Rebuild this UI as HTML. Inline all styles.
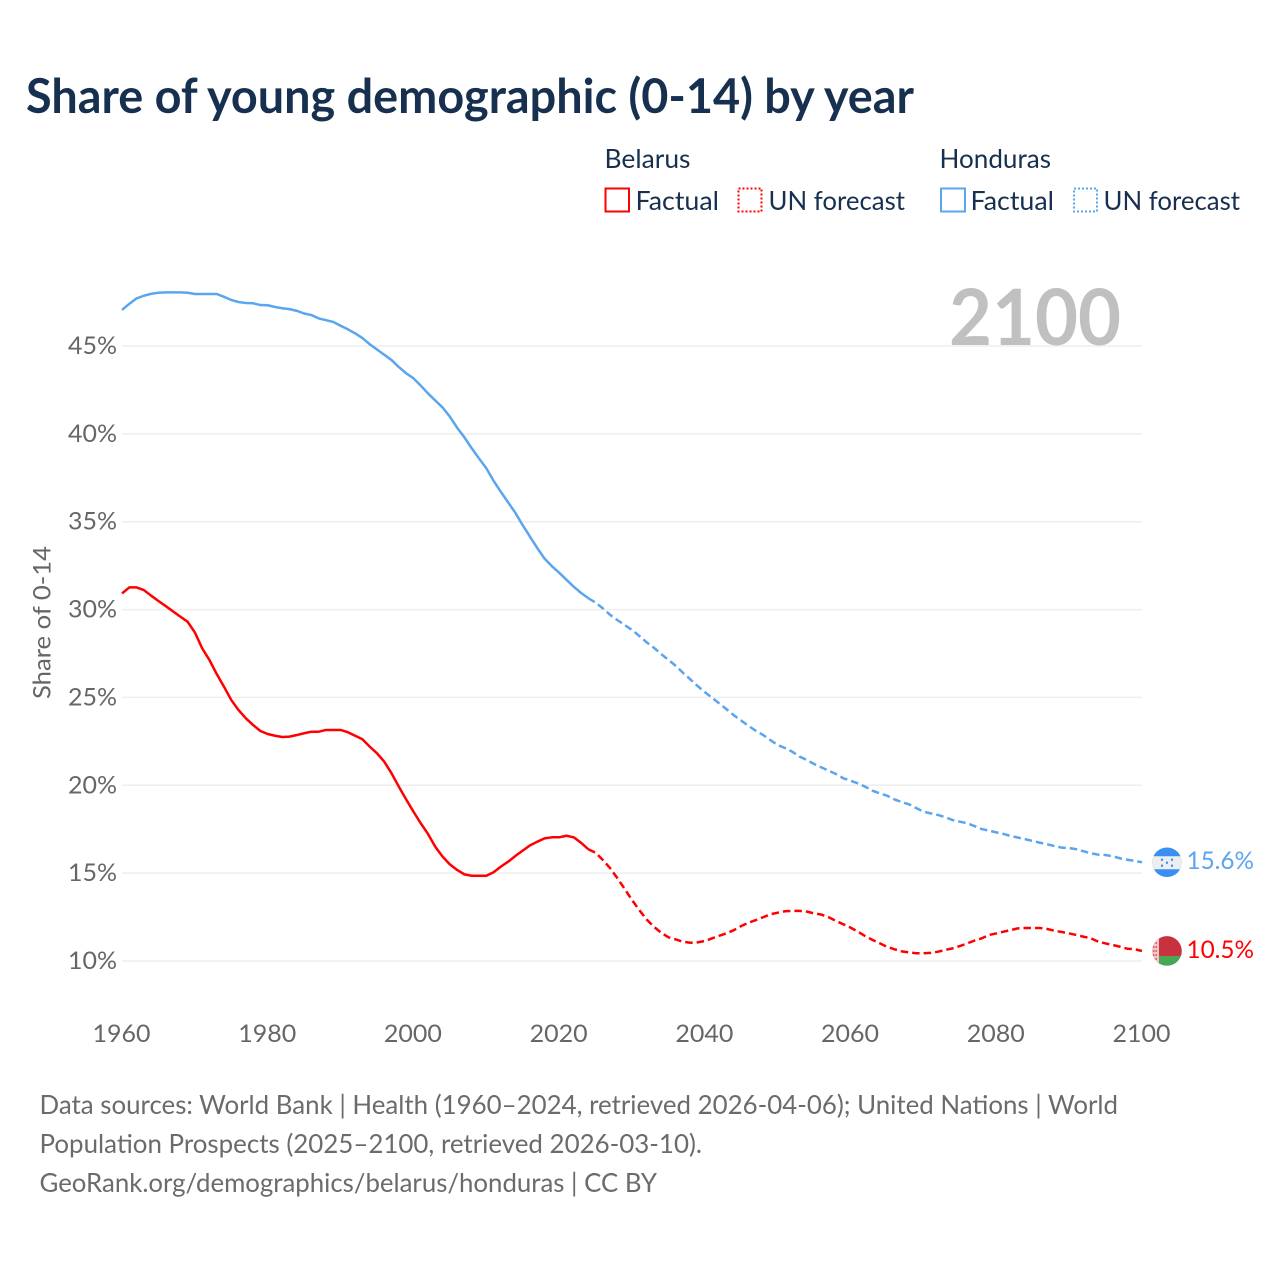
<!DOCTYPE html>
<html lang="en">
<head>
<meta charset="utf-8">
<title>Share of young demographic (0-14) by year</title>
<style>
html,body{margin:0;padding:0;background:#fff;width:1280px;height:1280px;overflow:hidden}
svg{display:block}
text{font-family:"Lato","Carlito","Liberation Sans",sans-serif}
</style>
</head>
<body>
<svg id="chart" width="1280" height="1280" viewBox="0 0 1280 1280" xmlns="http://www.w3.org/2000/svg">
  <defs>
    <clipPath id="flag-clip"><circle cx="0" cy="0" r="14.8"/></clipPath>
  </defs>
  <rect x="0" y="0" width="1280" height="1280" fill="#fff"/>
  <text x="26" y="113" font-size="48" font-weight="700" fill="#17304f" textLength="888" lengthAdjust="spacingAndGlyphs">Share of young demographic (0-14) by year</text>

  <g font-size="26" fill="#17304f">
    <text x="604.500" y="168" textLength="86" lengthAdjust="spacingAndGlyphs">Belarus</text>
    <rect x="605.500" y="188.500" width="23.500" height="23" fill="none" stroke="#ff0000" stroke-width="2"/>
    <text x="635.500" y="210" textLength="83.500" lengthAdjust="spacingAndGlyphs">Factual</text>
    <rect x="738.500" y="188.500" width="23" height="23" fill="none" stroke="#ff0000" stroke-width="2" stroke-dasharray="2 2"/>
    <text x="768.500" y="210" textLength="136.500" lengthAdjust="spacingAndGlyphs">UN forecast</text>
    <text x="939.500" y="168" textLength="111.500" lengthAdjust="spacingAndGlyphs">Honduras</text>
    <rect x="941" y="188.500" width="24" height="23" fill="none" stroke="#5aa5ee" stroke-width="2"/>
    <text x="970.500" y="210" textLength="83.500" lengthAdjust="spacingAndGlyphs">Factual</text>
    <rect x="1074" y="188.500" width="23" height="23" fill="none" stroke="#5aa5ee" stroke-width="2" stroke-dasharray="2 2"/>
    <text x="1103.500" y="210" textLength="136.500" lengthAdjust="spacingAndGlyphs">UN forecast</text>
  </g>

  <g id="grid"></g>
  <text x="949" y="345" font-size="78" font-weight="700" fill="#c0c0c0" textLength="172" lengthAdjust="spacingAndGlyphs">2100</text>
  <g id="yticks" font-size="24" fill="#666" text-anchor="end"></g>
  <g id="xticks" font-size="24" fill="#666" text-anchor="middle"></g>
  <text transform="translate(50.500,699) rotate(-90)" font-size="24" fill="#666" textLength="153" lengthAdjust="spacingAndGlyphs">Share of 0-14</text>

  <g id="series" fill="none" stroke-width="2.5" stroke-linejoin="round"></g>

  <g id="flag-honduras" clip-path="url(#flag-clip)">
    <rect x="-15" y="-15" width="30" height="30" fill="#3a8ff0"/>
    <rect x="-15" y="-6" width="30" height="13" fill="#eeeeee"/>
    <circle cx="-5" cy="-2.500" r="1.200" fill="#3a8ff0"/>
    <circle cx="5" cy="-2.500" r="1.200" fill="#3a8ff0"/>
    <circle cx="0" cy="0.500" r="1.200" fill="#3a8ff0"/>
    <circle cx="-5" cy="3.500" r="1.200" fill="#3a8ff0"/>
    <circle cx="5" cy="3.500" r="1.200" fill="#3a8ff0"/>
  </g>
  <g id="flag-belarus" clip-path="url(#flag-clip)">
    <rect x="-15" y="-15" width="30" height="20" fill="#c8313e"/>
    <rect x="-15" y="5" width="30" height="10" fill="#4aa657"/>
    <rect x="-15" y="-15" width="7" height="30" fill="#f3c6ca"/>
    <path d="M-14 -12h5M-14 -8h5M-14 -4h5M-14 0h5M-14 4h5M-14 8h5" stroke="#d8404c" stroke-width="1.500" stroke-dasharray="1.500 1"/>
  </g>
  <g id="end-labels" font-size="24"></g>

  <g font-size="26" fill="#6b6b6b">
    <text x="39.500" y="1114" textLength="1078.500" lengthAdjust="spacingAndGlyphs">Data sources: World Bank | Health (1960–2024, retrieved 2026-04-06); United Nations | World</text>
    <text x="39.500" y="1153" textLength="662.500" lengthAdjust="spacingAndGlyphs">Population Prospects (2025–2100, retrieved 2026-03-10).</text>
    <text x="39.500" y="1192" textLength="617.500" lengthAdjust="spacingAndGlyphs">GeoRank.org/demographics/belarus/honduras | CC BY</text>
  </g>
</svg>
<script>
const firstYear = 1960;
const yTickValues = [10, 15, 20, 25, 30, 35, 40, 45];
const xTickValues = [1960, 1980, 2000, 2020, 2040, 2060, 2080, 2100];

// Belarus, 1960-2024
const belarusFactual = [
  30.92, 31.26, 31.26, 31.11, 30.79, 30.49, 30.2, 29.9, 29.6, 29.31,
  28.7, 27.8, 27.13, 26.33, 25.61, 24.85, 24.28, 23.81, 23.43, 23.09,
  22.92, 22.82, 22.75, 22.77, 22.86, 22.96, 23.05, 23.05, 23.15, 23.15,
  23.15, 23.02, 22.82, 22.62, 22.2, 21.82, 21.34, 20.68, 19.92, 19.2,
  18.5, 17.84, 17.23, 16.5, 15.94, 15.5, 15.18, 14.93, 14.85, 14.85,
  14.85, 15.05, 15.37, 15.65, 15.98, 16.28, 16.58, 16.79, 16.98, 17.04,
  17.04, 17.13, 17.04, 16.73, 16.36
];
// Belarus, 2025-2100
const belarusForecast = [
  16.16, 15.75, 15.28, 14.71, 14.1,
  13.47, 12.9, 12.37, 11.95, 11.61, 11.35, 11.23, 11.1, 11.04, 11.06,
  11.14, 11.29, 11.44, 11.58, 11.76, 11.99, 12.18, 12.33, 12.49, 12.66,
  12.75, 12.83, 12.85, 12.85, 12.81, 12.71, 12.64, 12.49, 12.28, 12.09,
  11.9, 11.67, 11.42, 11.2, 11.01, 10.81, 10.67, 10.55, 10.49, 10.44,
  10.44, 10.46, 10.53, 10.63, 10.72, 10.85, 11.0, 11.16, 11.29, 11.48,
  11.57, 11.67, 11.76, 11.86, 11.88, 11.88, 11.88, 11.82, 11.72, 11.65,
  11.57, 11.48, 11.38, 11.29, 11.1, 11.0, 10.91, 10.81, 10.7, 10.67,
  10.57
];
// Honduras, 1960-2024
const hondurasFactual = [
  47.05, 47.4, 47.71, 47.86, 47.97, 48.03, 48.05, 48.05, 48.05, 48.03,
  47.96, 47.96, 47.96, 47.96, 47.8, 47.62, 47.5, 47.45, 47.43, 47.33,
  47.32, 47.22, 47.15, 47.1, 47.0, 46.85, 46.76, 46.57, 46.47, 46.37,
  46.15, 45.95, 45.72, 45.45, 45.1, 44.8, 44.5, 44.2, 43.8, 43.45,
  43.16, 42.75, 42.3, 41.9, 41.5, 40.98, 40.35, 39.8, 39.18, 38.6,
  38.04, 37.33, 36.7, 36.1, 35.5, 34.8, 34.15, 33.5, 32.9, 32.47,
  32.1, 31.7, 31.3, 30.95, 30.65
];
// Honduras, 2025-2100
const hondurasForecast = [
  30.4, 30.07, 29.7, 29.4, 29.12,
  28.84, 28.5, 28.14, 27.83, 27.47, 27.14, 26.8, 26.4, 26.03, 25.65,
  25.3, 24.98, 24.65, 24.32, 23.98, 23.68, 23.38, 23.1, 22.86, 22.57,
  22.29, 22.12, 21.91, 21.63, 21.44, 21.21, 21.02, 20.83, 20.64, 20.4,
  20.26, 20.11, 19.92, 19.69, 19.54, 19.41, 19.2, 19.05, 18.92, 18.71,
  18.5, 18.4, 18.31, 18.18, 18.02, 17.93, 17.84, 17.68, 17.51, 17.42,
  17.32, 17.23, 17.11, 17.02, 16.93, 16.83, 16.73, 16.64, 16.54, 16.45,
  16.43, 16.36, 16.24, 16.13, 16.05, 16.03, 15.96, 15.84, 15.76, 15.7,
  15.62
];
const belarusEndLabel = "10.5%";
const hondurasEndLabel = "15.6%";

const SVG_NS = "http://www.w3.org/2000/svg";
function xScale(year) { return 122 + (year - 1960) * (1142 - 122) / 140; }
function yScale(value) { return 961 - (value - 10) * (961 - 346) / 35; }
function pathFrom(values, startYear) {
  return values.map(function (v, i) {
    return (i ? "L" : "M") + xScale(startYear + i).toFixed(2) + " " + yScale(v).toFixed(2);
  }).join("");
}

const grid = document.getElementById("grid");
const yticks = document.getElementById("yticks");
const xticks = document.getElementById("xticks");
const seriesGroup = document.getElementById("series");
const endLabels = document.getElementById("end-labels");

yTickValues.forEach(function (t) {
  const line = document.createElementNS(SVG_NS, "line");
  
  
  line.setAttribute("x1", xScale(1960));
  line.setAttribute("x2", xScale(2100));
  line.setAttribute("y1", yScale(t));
  line.setAttribute("y2", yScale(t));
  line.setAttribute("stroke", "#eeeeee");
  line.setAttribute("stroke-width", "1.5");
  grid.appendChild(line);

  const label = document.createElementNS(SVG_NS, "text");
  
  
  label.setAttribute("x", 117);
  label.setAttribute("y", yScale(t) + 8);
  label.setAttribute("textLength", 49);
  label.setAttribute("lengthAdjust", "spacingAndGlyphs");
  label.textContent = t + "%";
  yticks.appendChild(label);
});

xTickValues.forEach(function (t) {
  const label = document.createElementNS(SVG_NS, "text");
  
  
  label.setAttribute("x", xScale(t) - 0.5);
  label.setAttribute("y", 1042);
  label.setAttribute("textLength", 58);
  label.setAttribute("lengthAdjust", "spacingAndGlyphs");
  label.textContent = t;
  xticks.appendChild(label);
});

function drawSeries(factual, forecast, color) {
  const solid = document.createElementNS(SVG_NS, "path");
  
  
  solid.setAttribute("d", pathFrom(factual, firstYear));
  solid.setAttribute("stroke", color);
  seriesGroup.appendChild(solid);

  const lastFactual = factual[factual.length - 1];
  const dashed = document.createElementNS(SVG_NS, "path");
  
  
  dashed.setAttribute("d", pathFrom([lastFactual].concat(forecast), firstYear + factual.length - 1));
  dashed.setAttribute("stroke", color);
  dashed.setAttribute("stroke-dasharray", "7.5 4");
  seriesGroup.appendChild(dashed);
}
drawSeries(hondurasFactual, hondurasForecast, "#5aa5ee");
drawSeries(belarusFactual, belarusForecast, "#ff0000");

function placeEnd(flagId, forecast, text, color) {
  const last = forecast[forecast.length - 1];
  document.getElementById(flagId).setAttribute("transform", "translate(1167," + yScale(last) + ")");
  const label = document.createElementNS(SVG_NS, "text");
  
  
  label.setAttribute("x", 1186.5);
  label.setAttribute("y", yScale(last) + 7);
  label.setAttribute("fill", color);
  label.setAttribute("textLength", 67.5);
  label.setAttribute("lengthAdjust", "spacingAndGlyphs");
  label.textContent = text;
  endLabels.appendChild(label);
}
placeEnd("flag-honduras", hondurasForecast, hondurasEndLabel, "#5aa5ee");
placeEnd("flag-belarus", belarusForecast, belarusEndLabel, "#ff0000");
</script>
</body>
</html>
